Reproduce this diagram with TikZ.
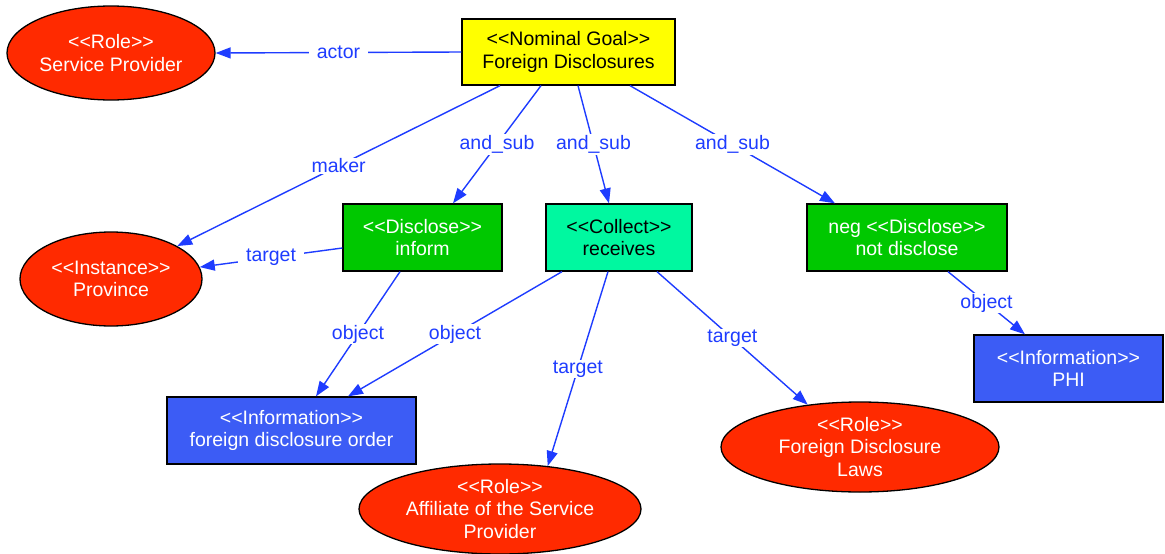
\documentclass[tikz,border=0pt]{standalone}
\usepackage{fontspec}
\newfontfamily\hv{Liberation Sans}
\usetikzlibrary{shapes.geometric,arrows.meta}
\definecolor{rolered}{HTML}{FF2A00}
\definecolor{goalyellow}{HTML}{FFFF00}
\definecolor{actgreen}{HTML}{00C800}
\definecolor{colgreen}{HTML}{00F8A0}
\definecolor{infoblue}{HTML}{3C5CF5}
\definecolor{edgeblue}{HTML}{1E3CFF}
\begin{document}
\begin{tikzpicture}[x=1pt,y=-1pt,
  every node/.style={font=\hv\fontsize{19.5}{22.5}\selectfont},
  box/.style={draw=black, line width=1.3pt, align=center, inner sep=0pt},
  goalbox/.style={box, fill=goalyellow, text=black},
  actbox/.style={box, fill=actgreen, text=white},
  colbox/.style={box, fill=colgreen, text=black},
  infobox/.style={box, fill=infoblue, text=white},
  roleell/.style={ellipse, draw=black, line width=1.3pt, fill=rolered, inner sep=0pt},
  wtxt/.style={text=white, align=center, inner sep=0pt},
  rel/.style={draw=edgeblue, line width=1.4pt, -{Triangle[length=15pt,width=11pt]}},
  lbl/.style={fill=white, text=edgeblue, inner xsep=8pt, inner ysep=1pt}]
\useasboundingbox (0,0) rectangle (1165,554);

% goal and its sub-goals
\node[goalbox, minimum width=213pt, minimum height=66pt] (goal) at (568.5,52) {<<Nominal Goal>>\\Foreign Disclosures};
\node[actbox, minimum width=159pt, minimum height=67pt] (inf) at (422.5,237.5) {<<Disclose>>\\inform};
\node[colbox, minimum width=146pt, minimum height=67pt] (col) at (619,237.5) {<<Collect>>\\receives};
\node[actbox, minimum width=200pt, minimum height=67pt] (neg) at (907,237.5) {neg <<Disclose>>\\not disclose};

% information items
\node[infobox, minimum width=249pt, minimum height=67pt] (ord) at (291.5,430.5) {<<Information>>\\foreign disclosure order};
\node[infobox, minimum width=189pt, minimum height=67pt] (phi) at (1068.5,368.5) {<<Information>>\\PHI};

% roles and instances
\node[roleell, minimum width=208pt, minimum height=94pt, label={[wtxt]center:<<Role>>\\Service Provider}] (sp) at (111,53) {};
\node[roleell, minimum width=182pt, minimum height=94pt, label={[wtxt]center:<<Instance>>\\Province}] (prov) at (111,279) {};
\node[roleell, minimum width=282pt, minimum height=90pt, label={[wtxt]center:<<Role>>\\Affiliate of the Service\\Provider}] (aff) at (500,509) {};
\node[roleell, minimum width=278pt, minimum height=90pt, label={[wtxt]center:<<Role>>\\Foreign Disclosure\\Laws}] (law) at (860,447) {};

% relations
\draw[rel] (goal.west) -- node[lbl]{actor} (sp.east);
\draw[rel] ([xshift=-68.5pt]goal.south) -- node[lbl]{maker} (prov);
\draw[rel] ([xshift=-27.5pt]goal.south) -- node[lbl]{and\_sub} ([xshift=30.5pt]inf.north);
\draw[rel] ([xshift=9.5pt]goal.south) -- node[lbl]{and\_sub} ([xshift=-10pt]col.north);
\draw[rel] ([xshift=61.5pt]goal.south) -- node[lbl]{and\_sub} ([xshift=-72pt]neg.north);
\draw[rel] ([yshift=-10.5pt]inf.west) -- node[lbl]{target} (prov);
\draw[rel] ([xshift=-22.5pt]inf.south) -- node[lbl]{object} ([xshift=24.5pt]ord.north);
\draw[rel] ([xshift=-57pt]col.south) -- node[lbl]{object} ([xshift=56.5pt]ord.north);
\draw[rel] ([xshift=-11pt]col.south) -- node[lbl]{target} (aff.42.5);
\draw[rel] ([xshift=38pt]col.south) -- node[lbl]{target} (law.141.5);
\draw[rel] ([xshift=41pt]neg.south) -- node[lbl]{object} ([xshift=-43.5pt]phi.north);
\end{tikzpicture}
\end{document}
